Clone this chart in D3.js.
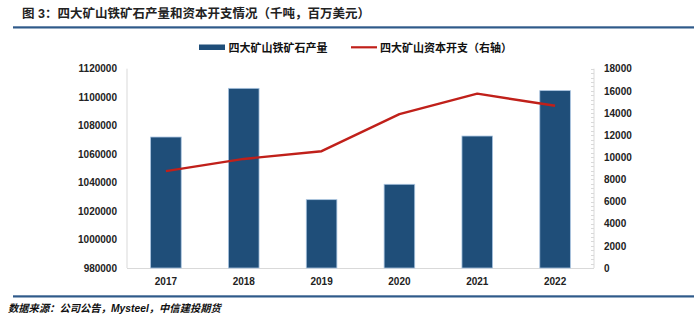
<!DOCTYPE html>
<html><head><meta charset="utf-8">
<script src="https://cdn.jsdelivr.net/npm/d3@7"></script>
<style>
body{margin:0;background:#fff;}
text{font-family:"Liberation Sans","Noto Sans CJK SC",sans-serif;}
</style></head>
<body><svg id="c" width="700" height="321"></svg>
<script>
const years = ["2017","2018","2019","2020","2021","2022"];
const production = [1072000, 1106200, 1028000, 1038800, 1072700, 1104600];
const capex = [8750, 9850, 10550, 13900, 15750, 14650];
const leftTicks = [980000,1000000,1020000,1040000,1060000,1080000,1100000,1120000];
const rightTicks = [0,2000,4000,6000,8000,10000,12000,14000,16000,18000];

const svg = d3.select("#c");
const cjk = '"Noto Sans CJK SC","Liberation Sans",sans-serif';
const pLeft = 127, pRight = 594, pTop = 68.7, pBottom = 268;

const x = d3.scaleBand().domain(years).range([pLeft, pRight]).paddingInner(0.607).paddingOuter(0.3035);
const yL = d3.scaleLinear().domain([980000,1120000]).range([pBottom, pTop]);
const yR = d3.scaleLinear().domain([0,18000]).range([pBottom, pTop]);

// title
svg.append("text").attr("x",22).attr("y",18).attr("font-family",cjk).attr("font-weight","bold")
  .attr("font-size",12.5).attr("fill","#222").text("图 3：四大矿山铁矿石产量和资本开支情况（千吨，百万美元）");
svg.append("rect").attr("x",13).attr("y",26.3).attr("width",681).attr("height",2.2).attr("fill","#2f5a8a");
svg.append("rect").attr("x",13).attr("y",295.3).attr("width",681).attr("height",2.2).attr("fill","#2f5a8a");

// legend
svg.append("rect").attr("x",199).attr("y",44.5).attr("width",26).attr("height",5.5).attr("fill","#1f4e79");
svg.append("text").attr("x",228.5).attr("y",51.5).attr("font-family",cjk).attr("font-weight","bold")
  .attr("font-size",11).attr("fill","#111").text("四大矿山铁矿石产量");
svg.append("line").attr("x1",351).attr("x2",377).attr("y1",47.3).attr("y2",47.3).attr("stroke","#c0201a").attr("stroke-width",2.2);
svg.append("text").attr("x",380).attr("y",51.5).attr("font-family",cjk).attr("font-weight","bold")
  .attr("font-size",11).attr("fill","#111").text("四大矿山资本开支（右轴）");

// axes lines
const axisCol = "#d9d9d9";
svg.append("line").attr("x1",pLeft).attr("x2",pLeft).attr("y1",pTop).attr("y2",pBottom).attr("stroke",axisCol);
svg.append("line").attr("x1",pLeft).attr("x2",pRight).attr("y1",pBottom+0.5).attr("y2",pBottom+0.5).attr("stroke",axisCol);

// left axis
const gL = svg.append("g").attr("transform",`translate(${pLeft},0)`)
  .call(d3.axisLeft(yL).tickValues(leftTicks).tickSize(0).tickPadding(10).tickFormat(d3.format("d")));
gL.select(".domain").remove();
gL.selectAll("text").attr("font-size",10).attr("font-weight","bold").attr("fill","#222").attr("font-family",'"Liberation Sans",sans-serif');

// right axis
const minor = d3.range(0,18001,400);
svg.append("line").attr("x1",pRight).attr("x2",pRight).attr("y1",pTop).attr("y2",pBottom).attr("stroke",axisCol);
svg.selectAll(".mt").data(minor).enter().append("line")
  .attr("x1",pRight-3).attr("x2",pRight).attr("y1",d=>Math.round(yR(d))+0.5).attr("y2",d=>Math.round(yR(d))+0.5)
  .attr("stroke",axisCol);
const gR = svg.append("g").attr("transform",`translate(${pRight},0)`)
  .call(d3.axisRight(yR).tickValues(rightTicks).tickSize(0).tickPadding(10).tickFormat(d3.format("d")));
gR.select(".domain").remove();
gR.selectAll("text").attr("font-size",10).attr("font-weight","bold").attr("fill","#222").attr("font-family",'"Liberation Sans",sans-serif');

// x axis
const gX = svg.append("g").attr("transform",`translate(0,${pBottom})`)
  .call(d3.axisBottom(x).tickSize(0).tickPadding(10));
gX.select(".domain").remove();
gX.selectAll("text").attr("font-size",10).attr("font-weight","bold").attr("fill","#222").attr("font-family",'"Liberation Sans",sans-serif');

// bars
svg.selectAll(".bar").data(production).enter().append("rect")
  .attr("x",(d,i)=>x(years[i])).attr("width",x.bandwidth())
  .attr("y",d=>yL(d)).attr("height",d=>pBottom-yL(d))
  .attr("fill","#1f4e79").attr("stroke","#a9c4e0").attr("stroke-width",0.8);

// line
const line = d3.line().x((d,i)=>x(years[i])+x.bandwidth()/2).y(d=>yR(d));
svg.append("path").datum(capex).attr("d",line).attr("fill","none")
  .attr("stroke","#c0201a").attr("stroke-width",2.4).attr("stroke-linejoin","round");

// source
svg.append("text").attr("x",8).attr("y",312).attr("font-family",'"Liberation Serif","Noto Sans CJK SC",serif').attr("font-style","italic")
  .attr("font-weight","bold").attr("font-size",10.3).attr("fill","#111").text("数据来源：公司公告，Mysteel，中信建投期货");
</script></body></html>
